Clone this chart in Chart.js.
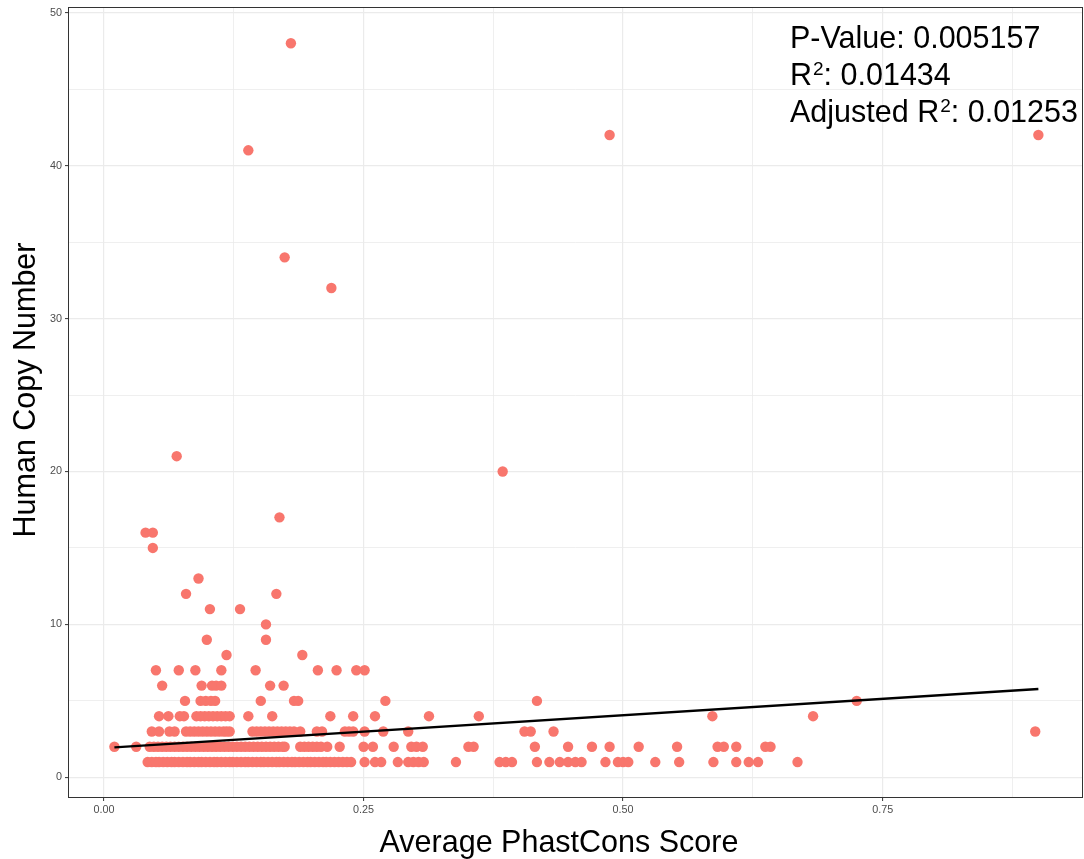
<!DOCTYPE html>
<html>
<head>
  <title>Human Copy Number vs PhastCons</title>
  <script src="https://cdn.jsdelivr.net/npm/chart.js"></script>
  <style>
    body { margin: 0; background: #ffffff; }
    #wrap { width: 1084px; height: 859px; }
  </style>
</head>
<body>
  <div id="wrap"><canvas id="scatter" width="1084" height="859"></canvas></div>

  <script>
    // scores (Average PhastCons) per human copy number level
    const scoresCopy1 = [0.042, 0.046, 0.050, 0.053, 0.057, 0.061, 0.065, 0.068, 0.072, 0.076, 0.080, 0.083,
      0.087, 0.091, 0.094, 0.098, 0.102, 0.106, 0.109, 0.113, 0.117, 0.121, 0.124, 0.128, 0.132, 0.136,
      0.139, 0.143, 0.147, 0.151, 0.154, 0.158, 0.162, 0.166, 0.169, 0.173, 0.177, 0.181, 0.184, 0.188,
      0.192, 0.196, 0.199, 0.203, 0.207, 0.211, 0.214, 0.218, 0.222, 0.226, 0.230, 0.234, 0.238,
      0.251, 0.261, 0.267, 0.283, 0.293, 0.298, 0.303, 0.308, 0.339, 0.381, 0.387, 0.393, 0.417, 0.429,
      0.439, 0.447, 0.454, 0.460, 0.483, 0.495, 0.500, 0.505, 0.531, 0.554, 0.587, 0.609, 0.621, 0.630, 0.668];
    const scoresCopy2 = [0.010, 0.031, 0.044, 0.048, 0.052, 0.056, 0.060, 0.064, 0.068, 0.072, 0.076, 0.080,
      0.084, 0.088, 0.092, 0.096, 0.100, 0.104, 0.108, 0.112, 0.116, 0.120, 0.124, 0.128, 0.132, 0.136,
      0.140, 0.144, 0.148, 0.152, 0.156, 0.160, 0.164, 0.168, 0.172, 0.174,
      0.189, 0.193, 0.197, 0.201, 0.205, 0.209, 0.215, 0.227, 0.250, 0.259, 0.279, 0.296, 0.301, 0.307,
      0.351, 0.356, 0.415, 0.447, 0.470, 0.487, 0.515, 0.552, 0.591, 0.597, 0.609, 0.637, 0.642];
    const scoresCopy3 = [0.046, 0.053, 0.063, 0.068, 0.079, 0.083, 0.087, 0.091, 0.095, 0.099, 0.103, 0.107,
      0.111, 0.115, 0.118, 0.121, 0.143, 0.147, 0.151, 0.155, 0.159, 0.163, 0.167, 0.171, 0.175, 0.179,
      0.183, 0.189, 0.205, 0.210, 0.232, 0.236, 0.240, 0.251, 0.269, 0.293, 0.405, 0.411, 0.433, 0.897];
    const scoresCopy4 = [0.053, 0.062, 0.073, 0.077, 0.089, 0.093, 0.097, 0.101, 0.105, 0.109, 0.113, 0.117,
      0.121, 0.139, 0.162, 0.218, 0.240, 0.261, 0.313, 0.361, 0.586, 0.683];
    const scoresCopy5 = [0.078, 0.093, 0.098, 0.103, 0.107, 0.151, 0.183, 0.187, 0.271, 0.417, 0.725];
    const scoresCopy6 = [0.056, 0.094, 0.104, 0.108, 0.113, 0.160, 0.173];
    const scoresCopy7 = [0.050, 0.072, 0.088, 0.113, 0.146, 0.206, 0.224, 0.243, 0.251];
    const scoresCopy8 = [0.118, 0.191];
    const scoresCopy9 = [0.099, 0.156];

    // the sparse high copy number points
    const outlierScore = [0.156, 0.102, 0.131, 0.079, 0.166, 0.091, 0.047, 0.040, 0.047, 0.169, 0.384, 0.070, 0.219, 0.174, 0.139, 0.487, 0.900, 0.180];
    const outlierCopy  = [10, 11, 11, 12, 12, 13, 15, 16, 16, 17, 20, 21, 32, 34, 41, 42, 42, 48];

    // fitted lm line ends
    const fitScore = [0.010, 0.900];
    const fitCopy = [1.96, 5.78];

    const xGridValues = [0, 0.125, 0.25, 0.375, 0.5, 0.625, 0.75, 0.875];
    const xTickValues = [0, 0.25, 0.5, 0.75];
    const xTickLabels = ['0.00', '0.25', '0.50', '0.75'];
    const yGridValues = [0, 5, 10, 15, 20, 25, 30, 35, 40, 45, 50];
    const yTickValues = [0, 10, 20, 30, 40, 50];
    const yTickLabels = ['0', '10', '20', '30', '40', '50'];

    const statLines = [
      { pre: 'P-Value: 0.005157', sup: '', post: '' },
      { pre: 'R', sup: '2', post: ': 0.01434' },
      { pre: 'Adjusted R', sup: '2', post: ': 0.01253' }
    ];

    const levels = [
      [1, scoresCopy1], [2, scoresCopy2], [3, scoresCopy3], [4, scoresCopy4], [5, scoresCopy5],
      [6, scoresCopy6], [7, scoresCopy7], [8, scoresCopy8], [9, scoresCopy9]
    ];
    const points = [];
    levels.forEach(([copy, arr]) => arr.forEach(s => points.push({ x: s, y: copy })));
    outlierScore.forEach((s, i) => points.push({ x: s, y: outlierCopy[i] }));

    const fitPoints = fitScore.map((s, i) => ({ x: s, y: fitCopy[i] }));

    const FONT = '"Liberation Sans", Arial, Helvetica, sans-serif';

    const overlay = {
      id: 'overlay',
      afterDatasetsDraw(chart) {
        const { ctx, chartArea: a } = chart;
        ctx.save();
        ctx.strokeStyle = '#333333';
        ctx.lineWidth = 1;
        ctx.strokeRect(a.left + 0.5, a.top + 0.5, a.right - a.left - 1, a.bottom - a.top - 1);
        ctx.restore();
      },
      afterDraw(chart) {
        const { ctx } = chart;
        ctx.save();
        ctx.fillStyle = '#000000';
        ctx.textBaseline = 'alphabetic';

        // axis titles
        ctx.font = '30.5px ' + FONT;
        ctx.textAlign = 'center';
        ctx.fillText('Average PhastCons Score', 559, 852);
        ctx.save();
        ctx.translate(35, 390);
        ctx.rotate(-Math.PI / 2);
        ctx.fillText('Human Copy Number', 0, 0);
        ctx.restore();

        // regression stats
        ctx.textAlign = 'left';
        statLines.forEach((ln, i) => {
          const base = 48 + i * 37;
          let x = 790;
          ctx.font = '30.5px ' + FONT;
          ctx.fillText(ln.pre, x, base);
          x += ctx.measureText(ln.pre).width;
          if (ln.sup) {
            ctx.font = '19px ' + FONT;
            ctx.fillText(ln.sup, x + 1, base - 10);
            x += ctx.measureText(ln.sup).width + 1;
            ctx.font = '30.5px ' + FONT;
            ctx.fillText(ln.post, x, base);
          }
        });
        ctx.restore();
      }
    };

    const isMajorX = v => xTickValues.indexOf(v) >= 0;
    const isMajorY = v => yTickValues.indexOf(v) >= 0;
    const noPad = scale => {
      scale.paddingTop = 0;
      scale.paddingBottom = 0;
      scale.paddingLeft = 0;
      scale.paddingRight = 0;
    };

    new Chart(document.getElementById('scatter').getContext('2d'), {
      type: 'scatter',
      data: {
        datasets: [
          {
            type: 'line',
            data: fitPoints,
            borderColor: '#000000',
            borderWidth: 2.5,
            pointRadius: 0,
            fill: false,
            order: 0
          },
          {
            data: points,
            backgroundColor: '#F8766D',
            borderWidth: 0,
            pointRadius: 5.2,
            pointHoverRadius: 5.2,
            order: 1
          }
        ]
      },
      options: {
        responsive: false,
        animation: false,
        layout: { autoPadding: false, padding: { top: 7, right: 1, left: 0, bottom: 0 } },
        plugins: {
          legend: { display: false },
          tooltip: { enabled: false }
        },
        scales: {
          x: {
            type: 'linear',
            min: -0.0347,
            max: 0.943,
            afterBuildTicks: scale => { scale.ticks = xGridValues.map(v => ({ value: v })); },
            afterFit: scale => { scale.height = 61; noPad(scale); },
            border: { display: false },
            grid: {
              color: '#ebebeb',
              lineWidth: c => (c.tick && isMajorX(c.tick.value)) ? 1.2 : 0.8,
              tickLength: 3,
              tickWidth: 1,
              tickColor: c => (c.tick && isMajorX(c.tick.value)) ? '#333333' : 'rgba(0,0,0,0)'
            },
            ticks: {
              autoSkip: false,
              maxRotation: 0,
              padding: 3,
              color: '#4d4d4d',
              font: { family: FONT, size: 10.8 },
              callback: v => { const i = xTickValues.indexOf(v); return i >= 0 ? xTickLabels[i] : ''; }
            }
          },
          y: {
            type: 'linear',
            min: -1.35,
            max: 50.37,
            afterBuildTicks: scale => { scale.ticks = yGridValues.map(v => ({ value: v })); },
            afterFit: scale => { scale.width = 68; noPad(scale); },
            border: { display: false },
            grid: {
              color: '#ebebeb',
              lineWidth: c => (c.tick && isMajorY(c.tick.value)) ? 1.2 : 0.8,
              tickLength: 3,
              tickWidth: 1,
              tickColor: c => (c.tick && isMajorY(c.tick.value)) ? '#333333' : 'rgba(0,0,0,0)'
            },
            ticks: {
              autoSkip: false,
              padding: 3,
              color: '#4d4d4d',
              font: { family: FONT, size: 10.8 },
              callback: v => { const i = yTickValues.indexOf(v); return i >= 0 ? yTickLabels[i] : ''; }
            }
          }
        }
      },
      plugins: [overlay]
    });
  </script>
</body>
</html>
